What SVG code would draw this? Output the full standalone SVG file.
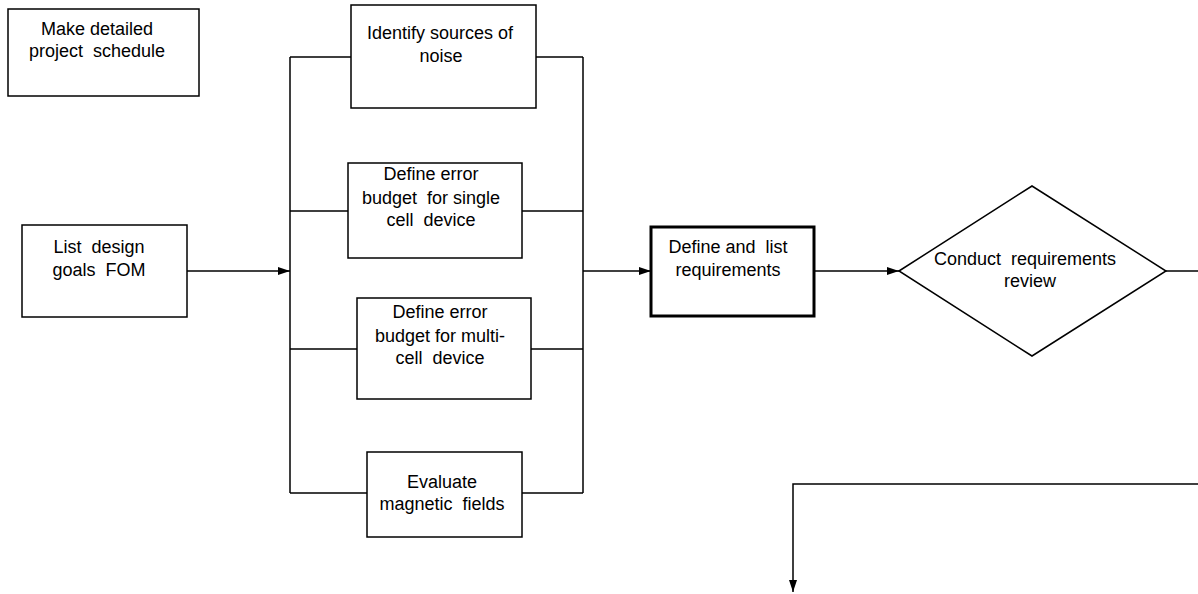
<svg xmlns="http://www.w3.org/2000/svg" width="1198" height="594" viewBox="0 0 1198 594">
<style>
.box{fill:#fff;stroke:#000;stroke-width:1.5}
.thick{fill:#fff;stroke:#000;stroke-width:3}
.ln{fill:none;stroke:#000;stroke-width:1.5}
text{font-family:"Liberation Sans",Arial,sans-serif;font-size:18px;fill:#000;text-anchor:middle;white-space:pre}
</style>
<defs>
<marker id="arr" viewBox="0 0 12 8" refX="12" refY="4" markerWidth="12" markerHeight="8" markerUnits="userSpaceOnUse" orient="auto">
<path d="M0,0 L12,4 L0,8 Z" fill="#000"/>
</marker>
</defs>
<rect width="1198" height="594" fill="#fff"/>
<g id="connectors">
<path class="ln" d="M290,57 V493 M583,57 V493"/>
<path class="ln" d="M290,57 H351 M536,57 H583"/>
<path class="ln" d="M290,211 H348 M522,211 H583"/>
<path class="ln" d="M290,349 H357 M531,349 H583"/>
<path class="ln" d="M290,493 H367 M522,493 H583"/>
<path class="ln" d="M187,271 H290" marker-end="url(#arr)"/>
<path class="ln" d="M583,271 H651" marker-end="url(#arr)"/>
<path class="ln" d="M814,271 H899" marker-end="url(#arr)"/>
<path class="ln" d="M1166,271 H1198"/>
<path class="ln" d="M1198,484 H793 V592" marker-end="url(#arr)"/>
</g>
<g id="n-schedule">
<rect class="box" x="8" y="9" width="191" height="87"/>
<text x="97" y="35">Make detailed</text>
<text x="97" y="57">project  schedule</text>
</g>
<g id="n-noise">
<rect class="box" x="351" y="5" width="185" height="103"/>
<text x="440" y="39">Identify sources of</text>
<text x="441" y="62">noise</text>
</g>
<g id="n-single">
<rect class="box" x="348" y="163" width="174" height="95"/>
<text x="431" y="180">Define error</text>
<text x="431" y="204">budget  for single</text>
<text x="431" y="226">cell  device</text>
</g>
<g id="n-multi">
<rect class="box" x="357" y="298" width="174" height="101"/>
<text x="440" y="318">Define error</text>
<text x="440" y="342">budget for multi-</text>
<text x="440" y="364">cell  device</text>
</g>
<g id="n-magnetic">
<rect class="box" x="367" y="452" width="155" height="85"/>
<text x="442" y="488">Evaluate</text>
<text x="442" y="510">magnetic  fields</text>
</g>
<g id="n-goals">
<rect class="box" x="22" y="225" width="165" height="92"/>
<text x="99" y="253">List  design</text>
<text x="99" y="276">goals  FOM</text>
</g>
<g id="n-requirements">
<rect class="thick" x="651" y="227" width="163" height="89"/>
<text x="728" y="253">Define and  list</text>
<text x="728" y="276">requirements</text>
</g>
<g id="n-review">
<polygon class="box" points="899,271 1032,186 1166,271 1032,356"/>
<text x="1025" y="265">Conduct  requirements</text>
<text x="1030" y="287">review</text>
</g>
</svg>
